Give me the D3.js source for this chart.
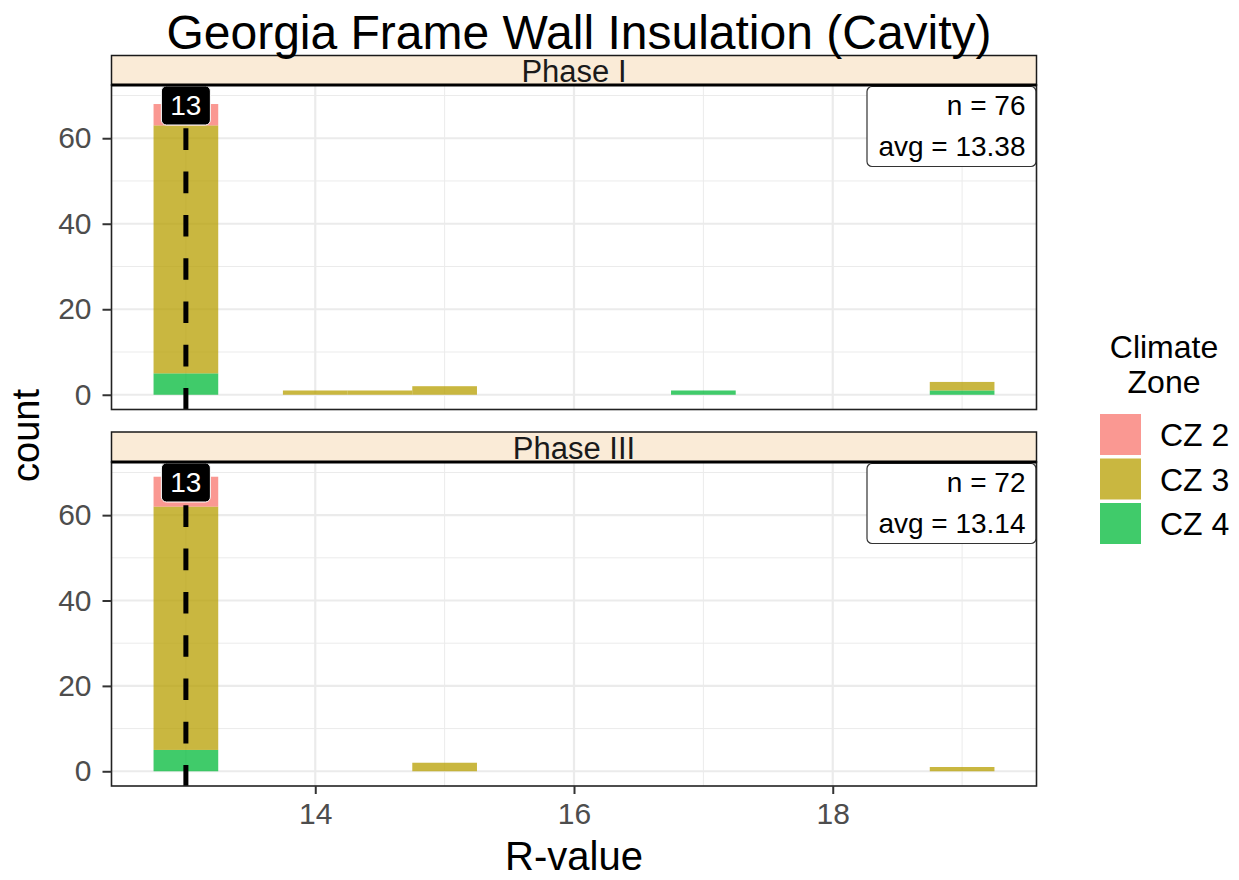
<!DOCTYPE html>
<html>
<head>
<meta charset="utf-8">
<script src="https://cdn.jsdelivr.net/npm/d3@7"></script>
<style>
  html, body { margin: 0; padding: 0; background: #ffffff; }
  svg { display: block; }
  text { font-family: "Liberation Sans", Arial, Helvetica, sans-serif; }
</style>
</head>
<body>
<svg id="chart" width="1239" height="880"></svg>
<script>
// ---------------- data ----------------
const chartTitle = "Georgia Frame Wall Insulation (Cavity)";
const phases = ["Phase I", "Phase III"];
const zones = ["CZ 2", "CZ 3", "CZ 4"];
const zoneColors = ["#F8766D", "#B79F00", "#00BA38"];

// histogram bins (centres, binwidth 0.5)
const binWidth = 0.5;
const binsPhase1 = [13, 14, 14.5, 15, 17, 19];
const cz2Phase1 = [5, 0, 0, 0, 0, 0];
const cz3Phase1 = [58, 1, 1, 2, 0, 2];
const cz4Phase1 = [5, 0, 0, 0, 1, 1];

const binsPhase3 = [13, 15, 19];
const cz2Phase3 = [7, 0, 0];
const cz3Phase3 = [57, 2, 1];
const cz4Phase3 = [5, 0, 0];

const medianValues = [13, 13];
const nLabels = ["n = 76", "n = 72"];
const avgLabels = ["avg = 13.38", "avg = 13.14"];

const xTicks = [14, 16, 18];
const xMinor = [13, 15, 17, 19];
const yTicks = [0, 20, 40, 60];
const yMinor = [10, 30, 50, 70];

// ---------------- build tables ----------------
function buildTable(bins, c2, c3, c4) {
  return bins.map((b, i) => ({ bin: b, "CZ 2": c2[i], "CZ 3": c3[i], "CZ 4": c4[i] }));
}
const tables = [
  buildTable(binsPhase1, cz2Phase1, cz3Phase1, cz4Phase1),
  buildTable(binsPhase3, cz2Phase3, cz3Phase3, cz4Phase3)
];

// ---------------- layout ----------------
const svg = d3.select("#chart");
const left = 111.5, right = 1036.5;
const panels = [
  { stripTop: 55.5, top: 85, bottom: 409.5 },
  { stripTop: 432, top: 462, bottom: 786 }
];

// shared scales (ggplot-style 5% expansion)
const xMin = d3.min([...binsPhase1, ...binsPhase3]) - binWidth / 2;
const xMax = d3.max([...binsPhase1, ...binsPhase3]) + binWidth / 2;
const xPad = (xMax - xMin) * 0.05;
const x = d3.scaleLinear().domain([xMin - xPad, xMax + xPad]).range([left, right]);

const totals = tables.flatMap(t => t.map(d => zones.reduce((s, z) => s + d[z], 0)));
const yMaxVal = d3.max(totals);
const yPad = yMaxVal * 0.05;

const color = d3.scaleOrdinal().domain(zones).range(zoneColors);
const stack = d3.stack().keys(["CZ 4", "CZ 3", "CZ 2"]);

panels.forEach((p, pi) => {
  const y = d3.scaleLinear().domain([-yPad, yMaxVal + yPad]).range([p.bottom, p.top]);
  const g = svg.append("g");

  // strip
  g.append("rect")
    .attr("x", left).attr("y", p.stripTop)
    .attr("width", right - left).attr("height", p.top - p.stripTop)
    .attr("fill", "#FAEBD7").attr("stroke", "#1a1a1a").attr("stroke-width", 1.5);
  g.append("text")
    .attr("x", (left + right) / 2).attr("y", p.top - 3.5)
    .attr("text-anchor", "middle")
    .attr("font-size", 31).attr("fill", "#1a1a1a")
    .text(phases[pi]);

  // panel background
  g.append("rect")
    .attr("x", left).attr("y", p.top)
    .attr("width", right - left).attr("height", p.bottom - p.top)
    .attr("fill", "#ffffff");

  // grid
  g.selectAll(".ymin").data(yMinor).join("line")
    .attr("x1", left).attr("x2", right)
    .attr("y1", d => y(d)).attr("y2", d => y(d))
    .attr("stroke", "#EBEBEB").attr("stroke-width", 1);
  g.selectAll(".xmin").data(xMinor).join("line")
    .attr("y1", p.top).attr("y2", p.bottom)
    .attr("x1", d => x(d)).attr("x2", d => x(d))
    .attr("stroke", "#EBEBEB").attr("stroke-width", 1);
  g.selectAll(".ymaj").data(yTicks).join("line")
    .attr("x1", left).attr("x2", right)
    .attr("y1", d => y(d)).attr("y2", d => y(d))
    .attr("stroke", "#EBEBEB").attr("stroke-width", 2.2);
  g.selectAll(".xmaj").data(xTicks).join("line")
    .attr("y1", p.top).attr("y2", p.bottom)
    .attr("x1", d => x(d)).attr("x2", d => x(d))
    .attr("stroke", "#EBEBEB").attr("stroke-width", 2.2);

  // bars
  const series = stack(tables[pi]);
  series.forEach(s => {
    g.selectAll(null).data(s.filter(d => d[1] - d[0] > 0)).join("rect")
      .attr("x", d => x(d.data.bin - binWidth / 2))
      .attr("width", d => x(d.data.bin + binWidth / 2) - x(d.data.bin - binWidth / 2))
      .attr("y", d => y(d[1]))
      .attr("height", d => y(d[0]) - y(d[1]))
      .attr("fill", color(s.key))
      .attr("fill-opacity", 0.75);
  });

  // dashed median line
  g.append("line")
    .attr("x1", x(medianValues[pi])).attr("x2", x(medianValues[pi]))
    .attr("y1", p.top).attr("y2", p.bottom)
    .attr("stroke", "#000").attr("stroke-width", 5)
    .attr("stroke-dasharray", "21.6 21.7");

  // median label
  const lblW = 49, lblH = 39;
  g.append("rect")
    .attr("x", x(medianValues[pi]) - lblW / 2).attr("y", p.top + 1)
    .attr("width", lblW).attr("height", lblH)
    .attr("rx", 5).attr("ry", 5)
    .attr("fill", "#000").attr("stroke", "#ffffff").attr("stroke-width", 1);
  g.append("text")
    .attr("x", x(medianValues[pi])).attr("y", p.top + 30)
    .attr("text-anchor", "middle").attr("font-size", 28).attr("fill", "#fff")
    .text(String(medianValues[pi]));

  // n / avg label box
  const bw = 169, bh = 80;
  g.append("rect")
    .attr("x", right - bw - 0.5).attr("y", p.top + 1.5)
    .attr("width", bw).attr("height", bh)
    .attr("rx", 5).attr("ry", 5)
    .attr("fill", "#fff").attr("stroke", "#333").attr("stroke-width", 1.2);
  g.append("text")
    .attr("x", right - 11).attr("y", p.top + 30)
    .attr("text-anchor", "end").attr("font-size", 28).attr("fill", "#000")
    .text(nLabels[pi]);
  g.append("text")
    .attr("x", right - 11).attr("y", p.top + 70.5)
    .attr("text-anchor", "end").attr("font-size", 28).attr("fill", "#000")
    .text(avgLabels[pi]);

  // panel border
  g.append("rect")
    .attr("x", left).attr("y", p.top)
    .attr("width", right - left).attr("height", p.bottom - p.top)
    .attr("fill", "none").attr("stroke", "#222222").attr("stroke-width", 1.6);
  g.append("line")
    .attr("x1", left).attr("x2", right).attr("y1", p.top).attr("y2", p.top)
    .attr("stroke", "#000").attr("stroke-width", 3);

  // y axis
  const yAxis = d3.axisLeft(y).tickValues(yTicks).tickSize(9).tickPadding(11).tickFormat(d3.format("d"));
  const ya = g.append("g").attr("transform", `translate(${left},0)`).call(yAxis);
  ya.select(".domain").remove();
  ya.selectAll(".tick line").attr("stroke", "#333333").attr("stroke-width", 2);
  ya.selectAll(".tick text").attr("font-size", 30).attr("fill", "#4D4D4D")
    .attr("font-family", "Liberation Sans, Arial, sans-serif");

  // x axis on bottom panel only
  if (pi === panels.length - 1) {
    const xAxis = d3.axisBottom(x).tickValues(xTicks).tickSize(8).tickPadding(9).tickFormat(d3.format("d"));
    const xa = g.append("g").attr("transform", `translate(0,${p.bottom})`).call(xAxis);
    xa.select(".domain").remove();
    xa.selectAll(".tick line").attr("stroke", "#333333").attr("stroke-width", 2);
    xa.selectAll(".tick text").attr("font-size", 30).attr("fill", "#4D4D4D")
      .attr("font-family", "Liberation Sans, Arial, sans-serif");
  }
});

// title (on top, its descenders touch the first strip as in the reference)
svg.append("text")
  .attr("x", 579).attr("y", 49)
  .attr("text-anchor", "middle").attr("font-size", 48).attr("fill", "#000")
  .text(chartTitle);

// axis titles
svg.append("text")
  .attr("transform", `translate(39,${(panels[0].top + panels[1].bottom) / 2}) rotate(-90)`)
  .attr("text-anchor", "middle").attr("font-size", 38).attr("fill", "#000")
  .text("count");
svg.append("text")
  .attr("x", (left + right) / 2).attr("y", 870)
  .attr("text-anchor", "middle").attr("font-size", 40).attr("fill", "#000")
  .text("R-value");

// legend
const lg = svg.append("g");
lg.append("text").attr("x", 1164).attr("y", 358)
  .attr("text-anchor", "middle").attr("font-size", 32).text("Climate");
lg.append("text").attr("x", 1164).attr("y", 393)
  .attr("text-anchor", "middle").attr("font-size", 32).text("Zone");
zones.forEach((z, i) => {
  const ky = 414 + i * 44.5;
  lg.append("rect").attr("x", 1100).attr("y", ky).attr("width", 41).attr("height", 41)
    .attr("fill", color(z)).attr("fill-opacity", 0.75);
  lg.append("text").attr("x", 1160).attr("y", ky + 32)
    .attr("font-size", 32).attr("fill", "#000").text(z);
});
</script>
</body>
</html>
